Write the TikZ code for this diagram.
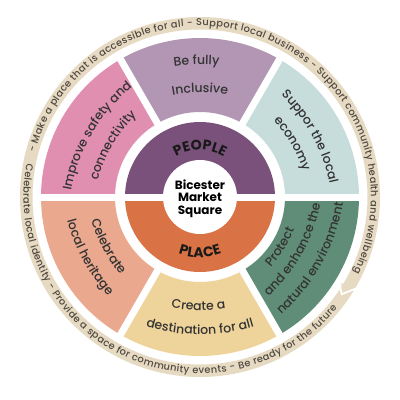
\documentclass[tikz,border=0pt]{standalone}
\usepackage{fontspec}
\setmainfont{Poppins}
\newfontfamily\medfont{Poppins}[UprightFont=* Medium]
\usetikzlibrary{decorations.text}
\definecolor{cPink}{HTML}{E18FB0}
\definecolor{cMauve}{HTML}{B296B3}
\definecolor{cBlue}{HTML}{C7DDDB}
\definecolor{cGreen}{HTML}{5F8D77}
\definecolor{cYellow}{HTML}{EED49A}
\definecolor{cSalmon}{HTML}{EAA98F}
\definecolor{cPeople}{HTML}{7A517A}
\definecolor{cPlace}{HTML}{D97244}
\definecolor{cRing}{HTML}{E6DAC3}
\definecolor{ringtxt}{HTML}{4F483F}
\definecolor{segtxt}{HTML}{333333}
\newcommand\segfont{\medfont\fontsize{12.5}{14}\selectfont}
\newcommand\ringfont{\medfont\fontsize{9.8}{11}\selectfont}
\newcommand\bigfont{\fontsize{14}{16}\selectfont\bfseries}
% #1 angle, #2 baseline distance, #3 curvature radius, #4 text
\newcommand\txtout[4]{\path[shift={(#1:{#2-#3})},decorate,decoration={text along path,text align=center,text color=segtxt,text={|\segfont|#4}}] (#1+60:#3) arc[start angle=#1+60,end angle=#1-60,radius=#3];}
\newcommand\txtin[4]{\path[shift={(#1:{#2-#3})},decorate,decoration={text along path,text align=center,text color=segtxt,text={|\segfont|#4}}] (#1-60:#3) arc[start angle=#1-60,end angle=#1+60,radius=#3];}
\newcommand\sector[3]{\fill[#1] (#2:85) arc[start angle=#2,end angle=#3,radius=85] -- (#3:159) arc[start angle=#3,end angle=#2,radius=159] -- cycle;}
\begin{document}
\begin{tikzpicture}[x=1pt,y=1pt]
\useasboundingbox (-200,-203) rectangle (200,197);
% outer ring
\draw[cRing,line width=12.5] (0,0) circle[radius=173.75];
\fill[cRing] (141,-86) -- (143,-95) -- (153,-91) -- cycle;
\draw[white,line width=1.8] (139.1,-85.3) -- (141.7,-97.2) -- (156.3,-91.4);
\path[decorate,decoration={text along path,text align=fit to path,text color=ringtxt,text={|\ringfont|- Make a place that is accessible for all - Support local business - Support community health and wellbeing}}] (165:171) arc[start angle=165,end angle=-26,radius=171];
\path[decorate,decoration={text along path,text align=fit to path,text color=ringtxt,text={|\ringfont|Celebrate local identity - Provide a space for community events - Be ready for the future}}] (169:176.5) arc[start angle=169,end angle=321,radius=176.5];
% segments
\sector{cBlue}{0}{60}
\sector{cMauve}{60}{120}
\sector{cPink}{120}{180}
\sector{cSalmon}{180}{240}
\sector{cYellow}{240}{300}
\sector{cGreen}{300}{360}
\foreach \a in {60,120,240,300} \draw[white,line width=7] (\a:80) -- (\a:164);
% people / place
\fill[cPeople] (0:75) arc[start angle=0,end angle=180,radius=75] -- cycle;
\fill[cPlace] (180:75) arc[start angle=180,end angle=360,radius=75] -- cycle;
\draw[white,line width=7] (-165,0) -- (165,0);
\fill[white] (0,0) circle[radius=37];
\node[font=\fontsize{12}{12.5}\selectfont\bfseries,align=center,text=black] (centre) at (0,-1.5) {Bicester\\Market\\Square};
\path[decorate,decoration={text along path,text align=center,text color=black!90,text={|\bigfont|PEOPLE}}] (160:47) arc[start angle=160,end angle=20,radius=47];
\path[decorate,decoration={text along path,text align=center,text color=black!90,text={|\bigfont|PLACE}}] (235:60.5) arc[start angle=235,end angle=305,radius=60.5];
% segment texts
\txtout{91.5}{132.5}{185.5}{Be fully}
\txtout{90}{104.5}{146}{Inclusive}
\txtout{149.4}{125}{174}{Improve safety and}
\txtout{149.5}{101.5}{143}{connectivity}
\txtout{28.7}{127.5}{178.5}{Suppor the local}
\txtout{30}{105}{147}{economy}
\txtin{-31.9}{99}{140}{Protect}
\txtin{-29.3}{117}{164}{and enhance the}
\txtin{-29}{139}{194}{natural environment}
\txtin{-90.8}{113.5}{159}{Create a}
\txtin{-90}{137.5}{192.5}{destination for all}
\txtin{208.2}{110}{154}{Celebrate}
\txtin{208.6}{133}{186}{local heritage}
\end{tikzpicture}
\end{document}
